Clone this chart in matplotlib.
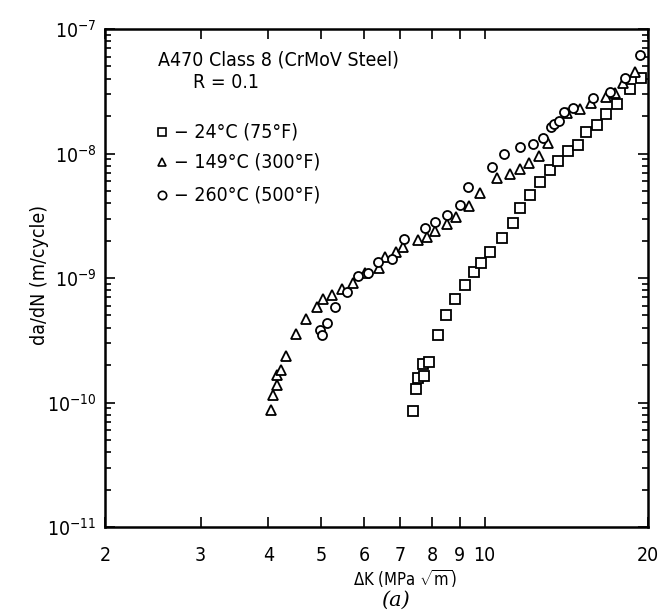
import matplotlib
matplotlib.use("Agg")
import matplotlib.pyplot as plt
from matplotlib.ticker import FixedLocator, FixedFormatter, LogLocator, NullLocator, NullFormatter

# fuente angosta (DejaVu condensada)
plt.rcParams["font.family"] = ["DejaVu Sans"]
plt.rcParams["font.stretch"] = "condensed"
plt.rcParams["mathtext.fontset"] = "custom"
plt.rcParams["mathtext.rm"] = "DejaVu Sans:stretch=condensed"
plt.rcParams["mathtext.it"] = "DejaVu Sans:italic:stretch=condensed"

# datos: 24 C (75 F)
dk_24 = [7.39, 7.48, 7.53, 7.75, 7.69, 7.89, 8.22, 8.48, 8.83, 9.22, 9.55, 9.85, 10.23,
         10.77, 11.27, 11.62, 12.12, 12.65, 13.2, 13.67, 14.26, 14.84, 15.37, 16.09,
         16.74, 17.54, 18.53, 19.39]
dadn_24 = [8.59e-11, 1.28e-10, 1.57e-10, 1.63e-10, 2.05e-10, 2.11e-10, 3.48e-10, 5.07e-10,
           6.82e-10, 8.74e-10, 1.11e-9, 1.31e-9, 1.61e-9, 2.08e-9, 2.78e-9, 3.63e-9,
           4.62e-9, 5.90e-9, 7.33e-9, 8.70e-9, 1.05e-8, 1.17e-8, 1.48e-8, 1.69e-8,
           2.07e-8, 2.50e-8, 3.30e-8, 4.02e-8]

# datos: 149 C (300 F)
dk_149 = [4.04, 4.07, 4.14, 4.14, 4.22, 4.31, 4.50, 4.69, 4.91, 5.05, 5.24, 5.46, 5.73,
          6.02, 6.40, 6.56, 6.86, 7.09, 7.55, 7.83, 8.11, 8.52, 8.86, 9.35, 9.82, 10.53,
          11.14, 11.63, 12.09, 12.60, 13.07, 14.17, 14.99, 15.73, 16.74, 17.39, 18.01, 18.95]
dadn_149 = [8.71e-11, 1.14e-10, 1.37e-10, 1.65e-10, 1.82e-10, 2.38e-10, 3.57e-10, 4.66e-10,
            5.88e-10, 6.74e-10, 7.30e-10, 8.11e-10, 9.06e-10, 1.09e-9, 1.20e-9, 1.48e-9,
            1.63e-9, 1.77e-9, 2.02e-9, 2.15e-9, 2.40e-9, 2.72e-9, 3.11e-9, 3.79e-9,
            4.82e-9, 6.39e-9, 6.89e-9, 7.47e-9, 8.44e-9, 9.50e-9, 1.21e-8, 2.13e-8,
            2.28e-8, 2.53e-8, 2.86e-8, 3.05e-8, 3.66e-8, 4.49e-8]

# datos: 260 C (500 F)
dk_260 = [4.98, 5.01, 5.13, 5.30, 5.57, 5.84, 6.09, 6.37, 6.76, 7.11, 7.77, 8.11, 8.52,
          9.01, 9.31, 10.31, 10.86, 11.62, 12.28, 12.83, 13.24, 13.44, 13.73, 14.02,
          14.57, 15.82, 17.00, 18.17, 19.33]
dadn_260 = [3.82e-10, 3.48e-10, 4.38e-10, 5.82e-10, 7.68e-10, 1.04e-9, 1.09e-9, 1.34e-9,
            1.41e-9, 2.05e-9, 2.51e-9, 2.83e-9, 3.21e-9, 3.86e-9, 5.38e-9, 7.79e-9,
            1.00e-8, 1.12e-8, 1.19e-8, 1.32e-8, 1.62e-8, 1.73e-8, 1.83e-8, 2.17e-8,
            2.32e-8, 2.77e-8, 3.14e-8, 4.06e-8, 6.18e-8]

ticks_x = [2, 3, 4, 5, 6, 7, 8, 9, 10, 20]
etiquetas_x = ["2", "3", "4", "5", "6", "7", "8", "9", "10", "20"]
ticks_y = [1e-11, 1e-10, 1e-9, 1e-8, 1e-7]
etiquetas_y = [r"$10^{-11}$", r"$10^{-10}$", r"$10^{-9}$", r"$10^{-8}$", r"$10^{-7}$"]

leyenda = ["\u2212 24\u00b0C (75\u00b0F)", "\u2212 149\u00b0C (300\u00b0F)", "\u2212 260\u00b0C (500\u00b0F)"]

fig = plt.figure(figsize=(6.66, 6.11), dpi=100)
ax = fig.add_axes([105 / 666, 1 - 527 / 611, 543 / 666, 498 / 611])

estilo = dict(ls="none", mfc="white", mec="black", mew=1.3, ms=6.5, clip_on=False)
ax.plot(dk_24, dadn_24, marker="s", **estilo)
ax.plot(dk_149, dadn_149, marker="^", **estilo)
ax.plot(dk_260, dadn_260, marker="o", **estilo)

ax.set_xscale("log")
ax.set_yscale("log")
ax.set_xlim(2, 20)
ax.set_ylim(1e-11, 1e-7)

ax.xaxis.set_major_locator(FixedLocator(ticks_x))
ax.xaxis.set_major_formatter(FixedFormatter(etiquetas_x))
ax.xaxis.set_minor_locator(NullLocator())
ax.yaxis.set_major_locator(FixedLocator(ticks_y))
ax.yaxis.set_major_formatter(FixedFormatter(etiquetas_y))
ax.yaxis.set_minor_locator(LogLocator(base=10, subs=range(2, 10)))
ax.yaxis.set_minor_formatter(NullFormatter())

ax.tick_params(which="both", direction="in", top=True, right=True, width=1.2, colors="black")
ax.tick_params(which="major", length=7, labelsize=14)
ax.tick_params(axis="x", which="major", pad=14)
ax.tick_params(axis="y", which="major", pad=6)
ax.tick_params(which="minor", length=4)
for lado in ax.spines.values():
    lado.set_linewidth(1.8)

ax.set_xlabel(r"$\Delta$K (MPa $\sqrt{\mathrm{m}}$)", fontsize=12, va="center")
ax.xaxis.set_label_coords((405 - 105) / 543, (527 - 578) / 498)
ax.set_ylabel("da/dN (m/cycle)", fontsize=14)
ax.yaxis.set_label_coords((49 - 105) / 543, (527 - 275) / 498)

def pos(px, py):
    return (px - 105) / 543, (527 - py) / 498

ax.text(*pos(158, 60), "A470 Class 8 (CrMoV Steel)", transform=ax.transAxes,
        fontsize=14, va="center", ha="left")
ax.text(*pos(193, 83), "R = 0.1", transform=ax.transAxes, fontsize=14, va="center", ha="left")

filas_y = [132, 162, 195]
marcas = ["s", "^", "o"]
for fy, marca, texto in zip(filas_y, marcas, leyenda):
    mx, my = pos(162, fy)
    ax.plot([mx], [my], marker=marca, transform=ax.transAxes, ls="none", mfc="white",
            mec="black", mew=1.2, ms=6)
    tx, ty = pos(174, fy)
    ax.text(tx, ty, texto, transform=ax.transAxes, fontsize=14, va="center", ha="left")

fig.text(395 / 666, 1 - 600 / 611, "(a)", fontsize=15, style="italic", family="DejaVu Serif",
         stretch="normal", ha="center", va="center")

fig.savefig("out.png", dpi=100)
